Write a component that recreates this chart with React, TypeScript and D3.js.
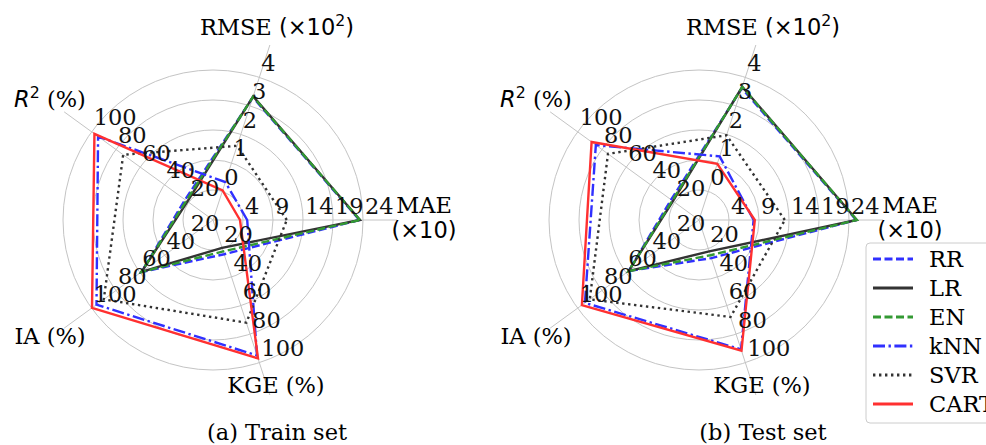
import React from 'react';
import * as d3 from 'd3';

// axis order round the radar: MAE, RMSE, R2, IA, KGE (counter-clockwise from east)
const axisKeys = ['MAE', 'RMSE', 'R2', 'IA', 'KGE'];
const maeTicks = [4, 9, 14, 19, 24];
const rmseTicks = [0, 1, 2, 3, 4];
const r2Ticks = [20, 40, 60, 80, 100];
const iaTicks = [20, 40, 60, 80, 100];
const kgeTicks = [20, 40, 60, 80, 100];

const modelNames = ['RR', 'LR', 'EN', 'kNN', 'SVR', 'CART'];

// values: MAE (x10), RMSE (x10^2), R2 %, IA %, KGE %
const trainRR = [23.4, 3.30, 23, 59, 24];
const trainLR = [23.5, 3.33, 21, 59, 19.5];
const trainEN = [23.5, 3.32, 22, 59, 22];
const trainKNN = [4.7, 0.33, 94.7, 96, 95];
const trainSVR = [11.3, 1.6, 74, 90, 72];
const trainCART = [3.5, 0.04, 97.7, 99.7, 97];

const testRR = [25.2, 3.62, 23, 58, 26.7];
const testLR = [25.3, 3.67, 21.5, 58, 22];
const testEN = [25.3, 3.66, 22, 58, 24.7];
const testKNN = [8.1, 1.23, 85, 94, 90.7];
const testSVR = [13.3, 1.97, 75, 90, 68];
const testCART = [8.3, 0.97, 88.5, 96.5, 91.6];

const trainSet = [trainRR, trainLR, trainEN, trainKNN, trainSVR, trainCART];
const testSet = [testRR, testLR, testEN, testKNN, testSVR, testCART];

const lineStyles: Record<string, { color: string; dash?: string }> = {
  RR: { color: '#3030ff', dash: '8,3.5' },
  LR: { color: '#333333' },
  EN: { color: '#339933', dash: '8,3.5' },
  kNN: { color: '#3030ff', dash: '12,3.5,2.4,3.5' },
  SVR: { color: '#333333', dash: '2.4,3.6' },
  CART: { color: '#ff3030' },
};

const SERIF = 'DejaVu Serif, serif';
const SANS = 'DejaVu Sans, sans-serif';
const FS = 22.5;
const R = 150;
const SPOKE = 184;
const LW = 2.4;

function AxisTitle({ k, x, y }: { k: string; x: number; y: number }) {
  if (k === 'RMSE') {
    return (
      <text x={x} y={y} textAnchor="middle" fontSize={FS} fontFamily={SERIF}>
        RMSE <tspan fontFamily={SANS}>(×10</tspan>
        <tspan fontFamily={SANS} fontSize={FS * 0.7} dy={-9}>2</tspan>
        <tspan fontFamily={SANS} dy={9}>)</tspan>
      </text>
    );
  }
  if (k === 'R2') {
    return (
      <text x={x} y={y} textAnchor="middle" fontSize={FS} fontFamily={SERIF}>
        <tspan fontFamily={SANS} fontStyle="italic">R</tspan>
        <tspan fontFamily={SANS} fontSize={FS * 0.7} dy={-9}>2</tspan>
        <tspan dy={9}> (%)</tspan>
      </text>
    );
  }
  if (k === 'MAE') {
    return (
      <g>
        <text x={x} y={y} textAnchor="middle" fontSize={FS} fontFamily={SERIF}>MAE</text>
        <text x={x} y={y + 25} textAnchor="middle" fontSize={FS} fontFamily={SANS}>(×10)</text>
      </g>
    );
  }
  return (
    <text x={x} y={y} textAnchor="middle" fontSize={FS} fontFamily={SERIF}>
      {k} (%)
    </text>
  );
}

// title anchor offsets from the radar centre
const titleOffset: Record<string, [number, number]> = {
  MAE: [211, -7],
  RMSE: [64, -185],
  R2: [-163, -113],
  IA: [-163, 124],
  KGE: [63, 173],
};

function Radar({ cx, cy, data, caption }: { cx: number; cy: number; data: number[][]; caption: string }) {
  const tickSets = [maeTicks, rmseTicks, r2Ticks, iaTicks, kgeTicks];
  const scales = tickSets.map(t =>
    d3.scaleLinear().domain([t[0], t[t.length - 1]]).range([R / 5, R])
  );
  const theta = d3.scaleLinear().domain([0, axisKeys.length]).range([0, 2 * Math.PI]);
  const pt = (i: number, r: number): [number, number] => [
    cx + r * Math.cos(theta(i)),
    cy - r * Math.sin(theta(i)),
  ];
  const line = d3
    .lineRadial<number>()
    .angle((d, i) => Math.PI / 2 - theta(i))
    .radius((d, i) => scales[i](d))
    .curve(d3.curveLinearClosed);

  return (
    <g>
      {d3.range(1, 6).map(k => (
        <circle key={k} cx={cx} cy={cy} r={(R / 5) * k} fill="none" stroke="#c4c4c4" strokeWidth={1} />
      ))}
      {axisKeys.map((k, i) => {
        const [x2, y2] = pt(i, SPOKE);
        return <line key={k} x1={cx} y1={cy} x2={x2} y2={y2} stroke="#c4c4c4" strokeWidth={1} />;
      })}
      <g transform={`translate(${cx},${cy})`}>
        {data.map((vals, m) => {
          const st = lineStyles[modelNames[m]];
          return (
            <path
              key={m}
              d={line(vals) || ''}
              fill="none"
              stroke={st.color}
              strokeWidth={LW}
              strokeDasharray={st.dash}
              strokeLinejoin="miter"
            />
          );
        })}
      </g>
      {tickSets.map((ticks, i) =>
        ticks.map(t => {
          const [x, y] = pt(i, scales[i](t));
          return (
            <text key={`${i}-${t}`} x={x + 2} y={y - 6.5} fontSize={FS} fontFamily={SERIF} fill="#111">
              {t}
            </text>
          );
        })
      )}
      {axisKeys.map(k => (
        <AxisTitle key={k} k={k} x={cx + titleOffset[k][0]} y={cy + titleOffset[k][1]} />
      ))}
      <text x={cx + 64} y={440} textAnchor="middle" fontSize={FS} fontFamily={SERIF}>
        {caption}
      </text>
    </g>
  );
}

function Legend({ x, y }: { x: number; y: number }) {
  const rowH = 29;
  return (
    <g>
      <rect x={x} y={y} width={150} height={180} rx={4} fill="#fff" fillOpacity={0.9} stroke="#cccccc" strokeWidth={1} />
      {modelNames.map((m, i) => {
        const yy = y + 16 + i * rowH;
        const st = lineStyles[m];
        return (
          <g key={m}>
            <line x1={x + 7} x2={x + 47} y1={yy} y2={yy} stroke={st.color} strokeWidth={LW + 0.4} strokeDasharray={st.dash} />
            <text x={x + 63} y={yy + 8} fontSize={FS} fontFamily={SERIF}>
              {m}
            </text>
          </g>
        );
      })}
    </g>
  );
}

export default function App() {
  return (
    <svg
      width={986}
      height={445}
      style={{ position: 'absolute', left: 0, top: 0, background: '#fff' }}
    >
      <Radar cx={213} cy={220} data={trainSet} caption="(a) Train set" />
      <Radar cx={699} cy={220} data={testSet} caption="(b) Test set" />
      <Legend x={866} y={243} />
    </svg>
  );
}
